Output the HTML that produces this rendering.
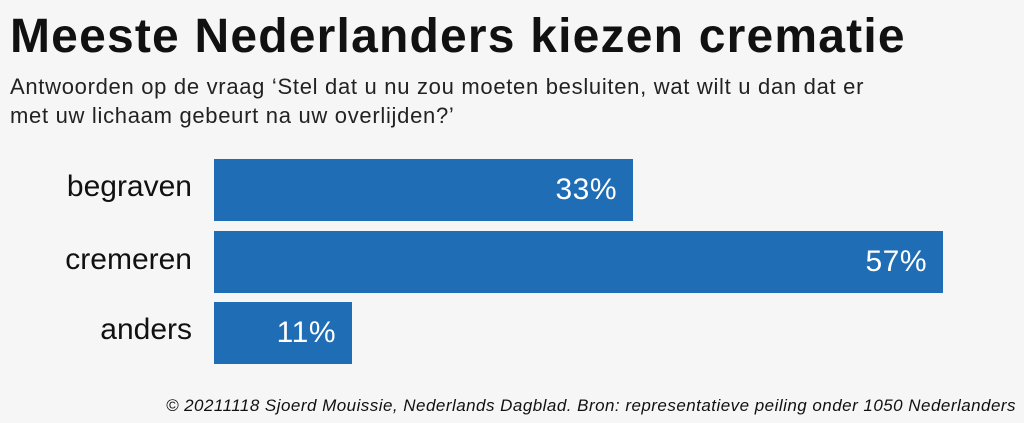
<!DOCTYPE html>
<html><head><meta charset="utf-8"><style>
body{margin:0;width:1024px;height:423px;background:#f6f6f6;position:relative;overflow:hidden;font-family:"Liberation Sans",sans-serif;color:#111}
.t{position:absolute;left:10px;top:9px;font-size:48px;font-weight:bold;letter-spacing:1.2px;white-space:nowrap}
.s{position:absolute;left:10px;top:72px;font-size:22px;line-height:29px;color:#222;letter-spacing:0.7px;white-space:nowrap}
.bar{position:absolute;left:214px;background:#1f6db5;color:#fff;font-size:30px;text-align:right;box-sizing:border-box;padding-right:16px;letter-spacing:0.5px}
.l{position:absolute;right:832px;font-size:30px;text-align:right;white-space:nowrap;letter-spacing:0px}
.f{position:absolute;right:8px;top:396px;font-size:17px;font-style:italic;white-space:nowrap;color:#111;letter-spacing:0.47px}
</style></head><body>
<div class="t">Meeste Nederlanders kiezen crematie</div>
<div class="s">Antwoorden op de vraag ‘Stel dat u nu zou moeten besluiten, wat wilt u dan dat er<br>met uw lichaam gebeurt na uw overlijden?’</div>
<div class="l" style="top:170px">begraven</div>
<div class="l" style="top:243px">cremeren</div>
<div class="l" style="top:313px">anders</div>
<div class="bar" style="top:159px;width:419px;height:62px;line-height:62px">33%</div>
<div class="bar" style="top:231px;width:729px;height:62px;line-height:62px">57%</div>
<div class="bar" style="top:302px;width:138px;height:62px;line-height:62px">11%</div>
<div class="f">© 20211118 Sjoerd Mouissie, Nederlands Dagblad. Bron: representatieve peiling onder 1050 Nederlanders</div>
</body></html>
